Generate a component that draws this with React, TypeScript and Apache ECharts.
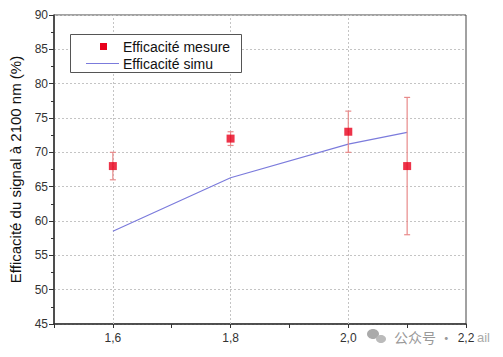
import React, { useEffect, useRef } from "react";
import * as echarts from "echarts";

const measX = [1.6, 1.8, 2.0, 2.1];
const measY = [68, 72, 73, 68];
const errLow = [66, 71, 70, 58];
const errHigh = [70, 73, 76, 78];
const simuX = [1.6, 1.8, 2.0, 2.1];
const simuY = [58.5, 66.3, 71.2, 72.9];
const gridXLines = [1.6, 1.8, 2.0];
const legendNames = ["Efficacité mesure", "Efficacité simu"];

export default function App() {
  const ref = useRef<HTMLDivElement>(null);
  useEffect(() => {
    if (!ref.current) return;
    const chart = echarts.init(ref.current, null, { renderer: "svg" });
    const font = "Liberation Sans, Arial, sans-serif";
    chart.setOption({
      animation: false,
      textStyle: { fontFamily: font },
      grid: {
        left: 52,
        right: 37,
        top: 15,
        bottom: 33,
        show: true,
        borderColor: "#444",
        borderWidth: 1,
      },
      xAxis: {
        type: "value",
        min: 1.5,
        max: 2.2,
        interval: 0.1,
        axisLine: { lineStyle: { color: "#333", width: 1.5 } },
        axisTick: { show: true, length: 4, lineStyle: { color: "#333" } },
        splitLine: { show: false },
        axisLabel: {
          fontSize: 12,
          color: "#333",
          margin: 8,
          formatter: (v: number) => {
            const k = Math.round(v * 10);
            if (k % 2 !== 0) return "";
            return (k / 10).toFixed(1).replace(".", ",");
          },
        },
      },
      yAxis: {
        type: "value",
        min: 45,
        max: 90,
        interval: 5,
        name: "Efficacité du signal à 2100 nm (%)",
        nameLocation: "middle",
        nameGap: 31,
        nameTextStyle: { fontSize: 15, color: "#111", fontFamily: font },
        axisLine: { show: true, lineStyle: { color: "#333", width: 1.5 } },
        axisTick: { show: true, length: 5, lineStyle: { color: "#333" } },
        minorTick: { show: true, splitNumber: 2, length: 3, lineStyle: { color: "#333" } },
        splitLine: { show: true, lineStyle: { color: "#c4c4c4", type: [2, 2] } },
        axisLabel: { fontSize: 12, color: "#333", margin: 6 },
      },
      series: [
        {
          name: legendNames[1],
          type: "line",
          symbol: "none",
          data: simuX.map((x, i) => [x, simuY[i]]),
          lineStyle: { color: "#7b7bdc", width: 1.2 },
          itemStyle: { color: "#7b7bdc" },
          z: 3,
          markLine: {
            silent: true,
            symbol: "none",
            label: { show: false },
            lineStyle: { color: "#c4c4c4", type: [2, 2], width: 1 },
            data: gridXLines.map((x) => ({ xAxis: x })),
            z: 1,
          },
        },
        {
          name: "errbars",
          type: "custom",
          data: measX.map((x, i) => [x, errLow[i], errHigh[i]]),
          renderItem: (params: any, api: any) => {
            const x = api.value(0);
            const lo = api.coord([x, api.value(1)]);
            const hi = api.coord([x, api.value(2)]);
            const cap = 3;
            const style = { stroke: "#e88a8a", lineWidth: 1.2 };
            return {
              type: "group",
              children: [
                { type: "line", shape: { x1: lo[0], y1: lo[1], x2: hi[0], y2: hi[1] }, style },
                { type: "line", shape: { x1: lo[0] - cap, y1: lo[1], x2: lo[0] + cap, y2: lo[1] }, style },
                { type: "line", shape: { x1: hi[0] - cap, y1: hi[1], x2: hi[0] + cap, y2: hi[1] }, style },
              ],
            };
          },
          z: 4,
        },
        {
          name: legendNames[0],
          type: "scatter",
          symbol: "rect",
          symbolSize: 8,
          data: measX.map((x, i) => [x, measY[i]]),
          itemStyle: { color: "#e8001c" },
          z: 5,
        },
      ],
      graphic: [
        {
          type: "rect",
          shape: { x: 70.5, y: 34.5, width: 171, height: 38 },
          style: { fill: "#fff", stroke: "#555", lineWidth: 1 },
          z: 10,
        },
        {
          type: "rect",
          shape: { x: 100, y: 43, width: 7, height: 7 },
          style: { fill: "#e8001c" },
          z: 11,
        },
        {
          type: "text",
          x: 123,
          y: 46.5,
          style: { text: legendNames[0], fill: "#111", fontSize: 14, fontFamily: font, verticalAlign: "middle" },
          z: 11,
        },
        {
          type: "line",
          shape: { x1: 86, y1: 63.5, x2: 119, y2: 63.5 },
          style: { stroke: "#7b7bdc", lineWidth: 1.2 },
          z: 11,
        },
        {
          type: "text",
          x: 123,
          y: 63.5,
          style: { text: legendNames[1], fill: "#111", fontSize: 14, fontFamily: font, verticalAlign: "middle" },
          z: 11,
        },
        {
          type: "ellipse",
          shape: { cx: 373, cy: 334, rx: 6, ry: 5 },
          style: { fill: "#aaa" },
        },
        {
          type: "ellipse",
          shape: { cx: 381, cy: 339, rx: 5, ry: 4 },
          style: { fill: "#bbb" },
        },
        {
          type: "text",
          x: 394,
          y: 337,
          style: { text: "公众号 ·", fill: "#999", fontSize: 14, fontFamily: "Noto Sans CJK SC", verticalAlign: "middle" },
        },
        {
          type: "text",
          x: 477,
          y: 337,
          style: { text: "ail", fill: "#aaa", fontSize: 13, fontFamily: font, verticalAlign: "middle" },
        },
      ],
    });
    return () => chart.dispose();
  }, []);
  return (
    <div
      ref={ref}
      style={{ position: "fixed", left: 0, top: 0, width: 503, height: 357, background: "#fff" }}
    />
  );
}
